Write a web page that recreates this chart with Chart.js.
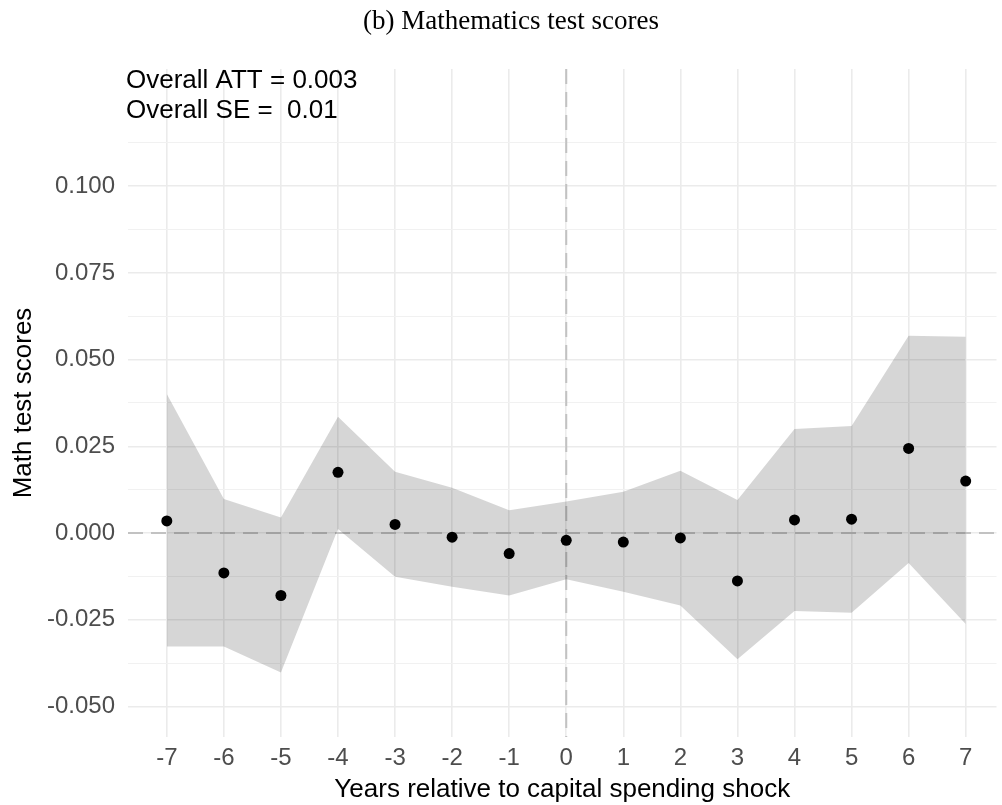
<!DOCTYPE html>
<html>
<head>
<meta charset="utf-8">
<script src="https://cdn.jsdelivr.net/npm/chart.js@4/dist/chart.umd.min.js"></script>
<style>
  html, body { margin: 0; padding: 0; background: #fff; }
  #wrap { width: 1002px; height: 805px; position: relative; }
</style>
</head>
<body>
<div id="wrap"><canvas id="myChart"></canvas></div>
<script>
const years = [-7, -6, -5, -4, -3, -2, -1, 0, 1, 2, 3, 4, 5, 6, 7];
const estimates = [0.0035, -0.0115, -0.0180, 0.0175, 0.0025, -0.0012, -0.0059, -0.0021, -0.0026, -0.0014, -0.0138, 0.0038, 0.0040, 0.0244, 0.0150];
const upperCI = [0.0401, 0.0098, 0.0045, 0.0335, 0.0177, 0.0131, 0.0066, 0.0091, 0.0119, 0.0180, 0.0095, 0.0300, 0.0309, 0.0569, 0.0566];
const lowerCI = [-0.0327, -0.0327, -0.0402, 0.0012, -0.0126, -0.0155, -0.0180, -0.0133, -0.0169, -0.0209, -0.0364, -0.0225, -0.0230, -0.0086, -0.0262];
const annotationLines = ['Overall ATT = 0.003', 'Overall SE =  0.01'];

document.addEventListener("DOMContentLoaded", function() {
    const toPoints = arr => years.map((x, i) => ({ x: x, y: arr[i] }));
    const isMajor = v => Math.abs(v / 0.025 - Math.round(v / 0.025)) < 1e-6;

    // zero reference lines, under the ribbon
    const refLines = {
        id: 'refLines',
        beforeDatasetsDraw(chart) {
            const { ctx, chartArea, scales } = chart;
            const y0 = scales.y.getPixelForValue(0);
            const x0 = scales.x.getPixelForValue(0);
            ctx.save();
            ctx.strokeStyle = '#c2c2c2';
            ctx.lineWidth = 2;
            ctx.setLineDash([15, 8]);
            ctx.beginPath();
            ctx.moveTo(chartArea.left, y0);
            ctx.lineTo(chartArea.right, y0);
            ctx.moveTo(x0, chartArea.top);
            ctx.lineTo(x0, chartArea.bottom);
            ctx.stroke();
            ctx.restore();
        }
    };

    const texts = {
        id: 'texts',
        afterDraw(chart) {
            const { ctx, chartArea } = chart;
            ctx.save();
            ctx.fillStyle = '#000';
            ctx.textAlign = 'center';
            ctx.textBaseline = 'alphabetic';
            ctx.font = '27px "Liberation Serif", serif';
            ctx.fillText('(b) Mathematics test scores', 511, 29);
            ctx.textAlign = 'left';
            ctx.font = '26px "Liberation Sans", Arial, sans-serif';
            annotationLines.forEach((t, i) => {
                ctx.fillText(t, chartArea.left - 2, chartArea.top + 19 + i * 30);
            });
            ctx.restore();
        }
    };

    const ctx = document.getElementById('myChart').getContext('2d');
    new Chart(ctx, {
        type: 'scatter',
        data: {
            datasets: [
                {
                    label: 'lower',
                    data: toPoints(lowerCI),
                    showLine: true,
                    borderWidth: 0,
                    borderColor: 'rgba(0,0,0,0)',
                    pointRadius: 0,
                    fill: false,
                },
                {
                    label: 'upper',
                    data: toPoints(upperCI),
                    showLine: true,
                    borderWidth: 0,
                    borderColor: 'rgba(0,0,0,0)',
                    pointRadius: 0,
                    fill: '-1',
                    backgroundColor: 'rgba(0,0,0,0.16)',
                },
                {
                    label: 'ATT',
                    data: toPoints(estimates),
                    pointRadius: 5.5,
                    pointBackgroundColor: '#000',
                    pointBorderWidth: 0,
                    backgroundColor: '#000',
                }
            ]
        },
        options: {
            responsive: true,
            maintainAspectRatio: false,
            animation: false,
            layout: { padding: { top: 69, right: 0, bottom: 0, left: 0 } },
            plugins: {
                legend: { display: false },
                tooltip: { enabled: false },
                title: { display: false }
            },
            scales: {
                x: {
                    type: 'linear',
                    min: -7.68,
                    max: 7.54,
                    afterFit: s => { s.height = 68; },
                    border: { display: false },
                    grid: { color: '#ebebeb', lineWidth: 1.6, drawTicks: false },
                    ticks: {
                        stepSize: 1,
                        includeBounds: false,
                        padding: 7,
                        color: '#4d4d4d',
                        font: { family: '"Liberation Sans", Arial, sans-serif', size: 24 },
                        callback: v => String(v)
                    },
                    title: {
                        display: true,
                        text: 'Years relative to capital spending shock',
                        color: '#000',
                        padding: { top: 0, bottom: 0 },
                        font: { family: '"Liberation Sans", Arial, sans-serif', size: 26 }
                    }
                },
                y: {
                    min: -0.0588,
                    max: 0.1338,
                    afterFit: s => { s.width = 128; },
                    afterBuildTicks: s => {
                        s.ticks = s.ticks.filter(t => t.value <= 0.113 && t.value >= -0.051);
                    },
                    border: { display: false },
                    grid: {
                        drawTicks: false,
                        color: c => isMajor(c.tick.value) ? '#ebebeb' : '#f1f1f1',
                        lineWidth: c => isMajor(c.tick.value) ? 1.6 : 1.1
                    },
                    ticks: {
                        stepSize: 0.0125,
                        includeBounds: false,
                        padding: 13,
                        color: '#4d4d4d',
                        font: { family: '"Liberation Sans", Arial, sans-serif', size: 24 },
                        callback: v => isMajor(v) ? v.toFixed(3) : ''
                    },
                    title: {
                        display: true,
                        text: 'Math test scores',
                        color: '#000',
                        padding: { top: 8, bottom: 0 },
                        font: { family: '"Liberation Sans", Arial, sans-serif', size: 26 }
                    }
                }
            }
        },
        plugins: [refLines, texts]
    });
});
</script>
</body>
</html>
